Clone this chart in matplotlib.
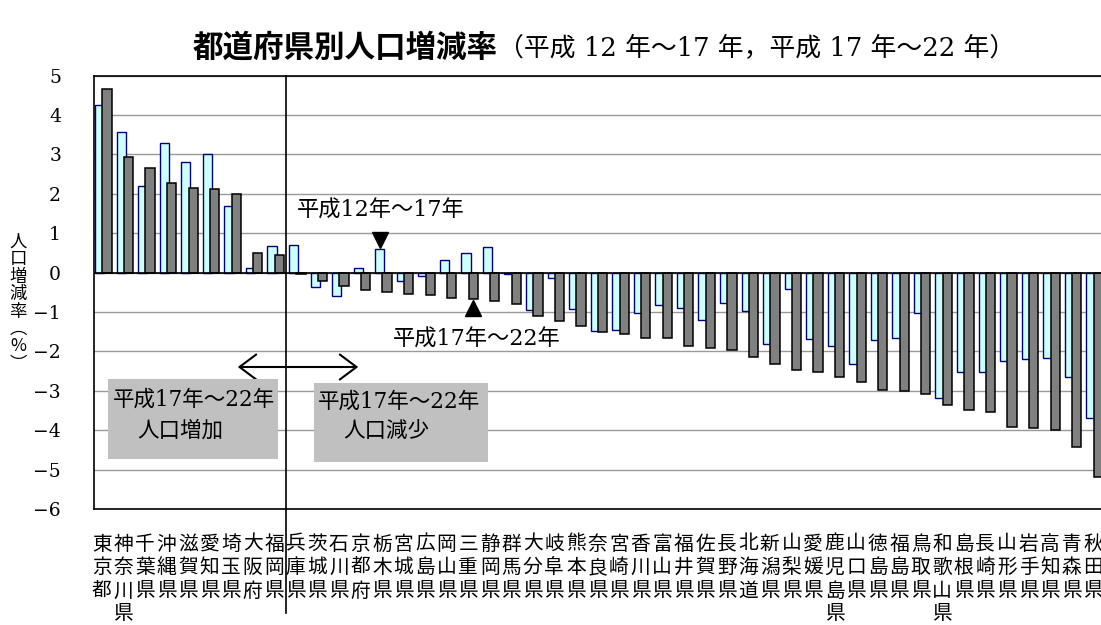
import matplotlib
matplotlib.use("Agg")
import matplotlib.pyplot as plt
from matplotlib.patches import Rectangle, FancyArrowPatch
from matplotlib import transforms
import numpy as np

# ---------------- data ----------------
prefectures = ["東京都", "神奈川県", "千葉県", "沖縄県", "滋賀県", "愛知県", "埼玉県", "大阪府", "福岡県",
               "兵庫県", "茨城県", "石川県", "京都府", "栃木県", "宮城県", "広島県", "岡山県", "三重県",
               "静岡県", "群馬県", "大分県", "岐阜県", "熊本県", "奈良県", "宮崎県", "香川県", "富山県",
               "福井県", "佐賀県", "長野県", "北海道", "新潟県", "山梨県", "愛媛県", "鹿児島県", "山口県",
               "徳島県", "福島県", "鳥取県", "和歌山県", "島根県", "長崎県", "山形県", "岩手県", "高知県",
               "青森県", "秋田県"]

rate_h12_17 = [4.26, 3.57, 2.19, 3.29, 2.80, 3.00, 1.68, 0.13, 0.68,
               0.71, -0.37, -0.60, 0.12, 0.59, -0.22, -0.09, 0.33, 0.51,
               0.66, -0.04, -0.96, -0.13, -0.93, -1.49, -1.46, -1.03, -0.83,
               -0.89, -1.19, -0.77, -0.98, -1.81, -0.41, -1.69, -1.86, -2.32,
               -1.72, -1.67, -1.03, -3.18, -2.53, -2.52, -2.25, -2.20, -2.17,
               -2.65, -3.68]

rate_h17_22 = [4.66, 2.93, 2.65, 2.27, 2.16, 2.12, 1.99, 0.51, 0.46,
               -0.04, -0.21, -0.35, -0.43, -0.49, -0.54, -0.56, -0.64, -0.67,
               -0.73, -0.79, -1.09, -1.24, -1.36, -1.51, -1.57, -1.65, -1.66,
               -1.85, -1.92, -1.97, -2.14, -2.32, -2.47, -2.52, -2.66, -2.77,
               -2.98, -3.00, -3.07, -3.35, -3.49, -3.53, -3.91, -3.94, -3.99,
               -4.43, -5.20]

y_ticks = [5, 4, 3, 2, 1, 0, -1, -2, -3, -4, -5, -6]
n_increase = 9  # prefectures with increase in H17-22

title_bold = "都道府県別人口増減率"
title_rest = "（平成 12 年～17 年，平成 17 年～22 年）"
ylabel_chars = ["人", "口", "増", "減", "率", "︵", "%", "︶"]
label_a = "平成12年～17年"
label_b = "平成17年～22年"
box1_lines = ["平成17年～22年", "人口増加"]
box2_lines = ["平成17年～22年", "人口減少"]

# ---------------- layout helpers ----------------
W, H = 1101, 625
CJK = "Noto Sans CJK JP"
MIX = ["DejaVu Serif", CJK]


def fx(px):
    return px / W


def fy(py):
    return 1 - py / H


fig = plt.figure(figsize=(W / 100, H / 100), dpi=100)
ax_left, ax_right, ax_top, ax_bot = 94.4, 1103.5, 75.7, 509.0
ax = fig.add_axes([fx(ax_left), fy(ax_bot), (ax_right - ax_left) / W, (ax_bot - ax_top) / H])

x = np.arange(len(prefectures))
bw = 0.43
off = 0.17

ax.bar(x - off, rate_h12_17, width=bw, color="#CCFFFF", edgecolor="#000080", linewidth=1.0, zorder=3)
ax.bar(x + off, rate_h17_22, width=bw, color="#808080", edgecolor="black", linewidth=1.1, zorder=4)

ax.set_xlim(-0.413, len(prefectures) - 1 + 0.413)
ax.set_ylim(min(y_ticks), max(y_ticks))
ax.set_yticks(y_ticks)
ax.set_yticklabels([("−" + str(abs(t))) if t < 0 else str(t) for t in y_ticks],
                   fontfamily="DejaVu Serif", fontsize=13.5)
ax.tick_params(axis="y", length=0, pad=24)
ax.set_xticks([])
ax.yaxis.grid(True, color="#999999", linewidth=1.0, zorder=0)
ax.set_axisbelow(True)
ax.axhline(0, color="black", linewidth=1.2, zorder=5)
for s in ["top", "left", "bottom", "right"]:
    ax.spines[s].set_color("black")
    ax.spines[s].set_linewidth(1.2)

# divider line between increase / decrease
ax.plot([n_increase - 0.5, n_increase - 0.5], [1, -(613 - ax_bot) / (ax_bot - ax_top)],
        transform=ax.get_xaxis_transform(), color="black", linewidth=1.2, clip_on=False, zorder=6)

# category labels (vertical stacked characters)
tr = transforms.blended_transform_factory(ax.transData, fig.transFigure)
row_y = [544, 567.5, 591, 613.5]
for i, name in enumerate(prefectures):
    for k, ch in enumerate(name):
        ax.text(i - 0.07, fy(row_y[k]), ch, transform=tr, ha="center", va="center",
                fontsize=14.2, family=CJK, color="black")

# y label (vertical)
for k, ch in enumerate(ylabel_chars):
    fig.text(fx(18), fy(242 + 17.4 * k), ch, ha="center", va="center", fontsize=12.5,
             family=[CJK, "DejaVu Sans"])

# title
fig.text(fx(498), fy(48), title_bold, ha="right", va="center", fontsize=22,
         family=CJK, fontweight="bold")
fig.text(fx(498), fy(48), title_rest, ha="left", va="center", fontsize=18.6, family=MIX)

# annotations with markers
i_a = prefectures.index("栃木県")
i_b = prefectures.index("三重県")
ax.plot(i_a - off, rate_h12_17[i_a] + 0.24, marker="v", color="black", markersize=12, zorder=7)
ax.plot(i_b + off, rate_h17_22[i_b] - 0.23, marker="^", color="black", markersize=12, zorder=7)
fig.text(fx(297), fy(211), label_a, ha="left", va="center", fontsize=16, family=MIX)
fig.text(fx(393), fy(340), label_b, ha="left", va="center", fontsize=16, family=MIX)

# double arrow
arr = FancyArrowPatch((fx(235), fy(367)), (fx(361), fy(367)), transform=fig.transFigure,
                      arrowstyle="<->,head_length=1.2,head_width=0.9", mutation_scale=10,
                      color="black", linewidth=1.5)
fig.add_artist(arr)

# gray boxes
for (x0, y0, x1, y1), lines, (lx1, ly1, lx2, ly2) in [
        ((108, 379, 278, 459), box1_lines, (113, 400, 137, 431)),
        ((314, 383, 488, 462), box2_lines, (318, 402, 343, 432))]:
    fig.add_artist(Rectangle((fx(x0), fy(y1)), (x1 - x0) / W, (y1 - y0) / H,
                             transform=fig.transFigure, facecolor="#C0C0C0", edgecolor="none"))
    fig.text(fx(lx1), fy(ly1), lines[0], ha="left", va="center", fontsize=15.5, family=MIX)
    fig.text(fx(lx2), fy(ly2), lines[1], ha="left", va="center", fontsize=15.5, family=MIX)

fig.savefig("out.png", dpi=100)
